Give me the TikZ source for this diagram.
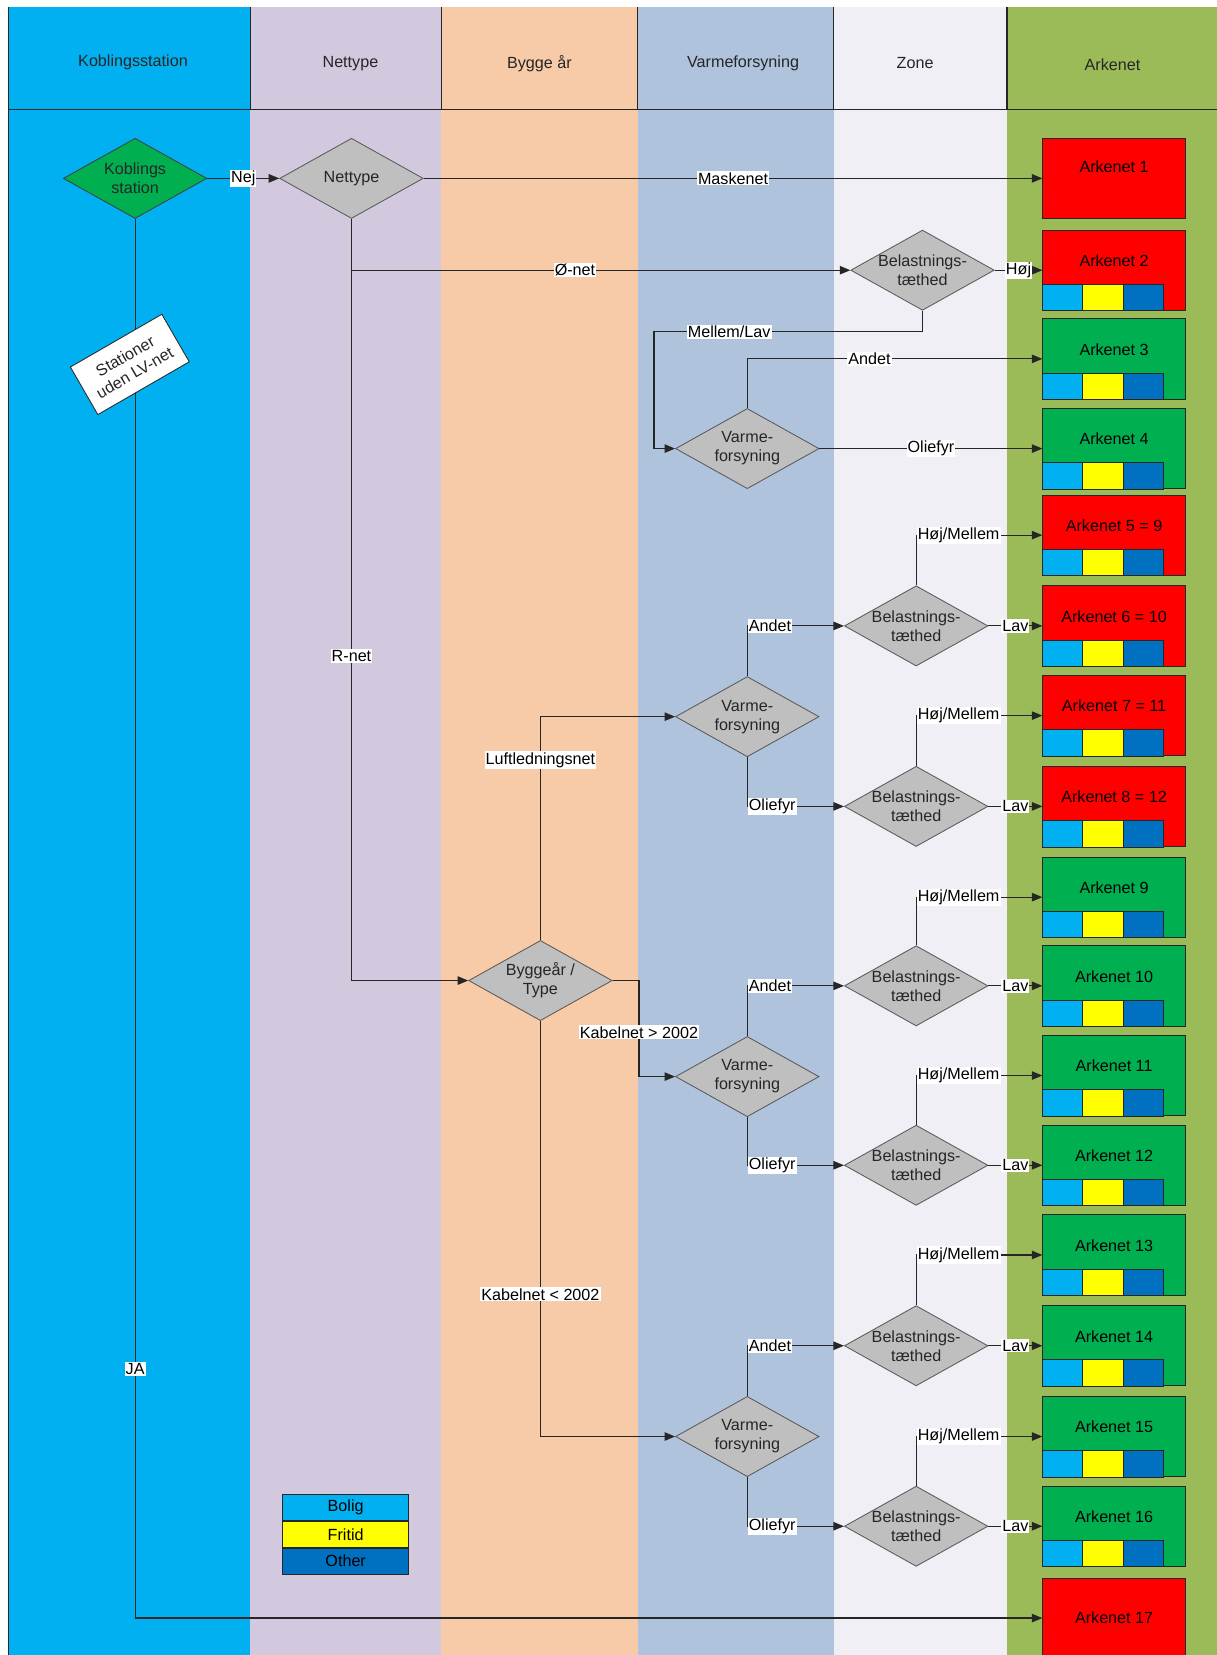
\documentclass[tikz,border=0pt]{standalone}
\usepackage{fontspec}
\setmainfont{Liberation Sans}
\usetikzlibrary{shapes.geometric,arrows.meta}
\definecolor{colA}{HTML}{00B0F0}
\definecolor{colB}{HTML}{D3C9DF}
\definecolor{colC}{HTML}{F8CBA8}
\definecolor{colD}{HTML}{B0C3DC}
\definecolor{colE}{HTML}{F0EFF5}
\definecolor{colF}{HTML}{9BBB59}
\definecolor{diagrey}{HTML}{BFBFBF}
\definecolor{diagreen}{HTML}{00B050}
\definecolor{boxred}{HTML}{FF0000}
\definecolor{boxgreen}{HTML}{00B050}
\definecolor{bolig}{HTML}{00B0F0}
\definecolor{fritid}{HTML}{FFFF00}
\definecolor{other}{HTML}{0070C0}
\definecolor{ink}{HTML}{262626}
\newcommand\arksquares[1]{%
  \draw[sq,fill=bolig] (#1.south west) rectangle ++(38.3,-25);
  \draw[sq,fill=fritid] ([xshift=38.3pt]#1.south west) rectangle ++(38.3,-25);
  \draw[sq,fill=other] ([xshift=76.6pt]#1.south west) rectangle ++(38.3,-25);}
\begin{document}
\begin{tikzpicture}[x=1pt,y=-1pt,
  font=\fontsize{15.3}{18}\selectfont,
  dia/.style={diamond, draw=black!65, fill=diagrey, minimum width=136pt, minimum height=76pt, inner sep=0pt, line width=0.8pt},
  ark/.style={draw=black!85, minimum width=135pt, minimum height=76pt, inner sep=0pt, line width=0.8pt},
  sq/.style={draw=black!85, line width=0.8pt},
  lbl/.style={fill=white, inner sep=1pt, text=black},
  conn/.style={draw=ink, line width=1.1pt, -{Triangle[length=10pt,width=8pt]}},
  wire/.style={draw=ink, line width=1.1pt},
  hdr/.style={text=black!85},
  leg/.style={draw=black!85, minimum width=119pt, minimum height=24.6pt, inner sep=0pt, line width=0.8pt}
]
\useasboundingbox (0,0) rectangle (1153,1568);
% lanes
\fill[colA] (8,7) rectangle (237,1570);
\fill[colB] (237,7) rectangle (418,1570);
\fill[colC] (418,7) rectangle (604,1570);
\fill[colD] (604,7) rectangle (790,1570);
\fill[colE] (790,7) rectangle (954,1570);
\fill[colF] (954,7) rectangle (1155,1570);
\draw[wire] (8,7) -- (8,1570);
\draw[wire] (8,104) -- (1155,104);
\foreach \xx in {237,418,604,790,954} \draw[wire] (\xx,7) -- (\xx,104);
\node[hdr] (h1) at (126,59) {Koblingsstation};
\node[hdr] (h2) at (332,60) {Nettype};
\node[hdr] (h3) at (511,60) {Bygge år};
\node[hdr] (h4) at (704,60) {Varmeforsyning};
\node[hdr] (h5) at (867,60) {Zone};
\node[hdr] (h6) at (1054,61) {Arkenet};

% decisions
\node[dia, fill=diagreen, draw=black!75, label={[align=center,text=black!85]center:Koblings\\station}] (k1) at (128,169) {};
\node[dia, label={[text=black!85]center:Nettype}] (nt) at (333,169) {};
\node[dia, label={[align=center,text=black!85]center:Belastnings-\\tæthed}] (b1) at (874,256) {};
\node[dia, label={[align=center,text=black!85]center:Varme-\\forsyning}] (v1) at (708,425) {};
\node[dia, label={[align=center,text=black!85]center:Belastnings-\\tæthed}] (b2) at (868,593) {};
\node[dia, label={[align=center,text=black!85]center:Varme-\\forsyning}] (v2) at (708,679) {};
\node[dia, label={[align=center,text=black!85]center:Belastnings-\\tæthed}] (b3) at (868,764) {};
\node[dia, label={[align=center,text=black!85]center:Byggeår /\\Type}] (by) at (512,929) {};
\node[dia, label={[align=center,text=black!85]center:Belastnings-\\tæthed}] (b4) at (868,934) {};
\node[dia, label={[align=center,text=black!85]center:Varme-\\forsyning}] (v3) at (708,1020) {};
\node[dia, label={[align=center,text=black!85]center:Belastnings-\\tæthed}] (b5) at (868,1104) {};
\node[dia, label={[align=center,text=black!85]center:Belastnings-\\tæthed}] (b6) at (868,1275) {};
\node[dia, label={[align=center,text=black!85]center:Varme-\\forsyning}] (v4) at (708,1361) {};
\node[dia, label={[align=center,text=black!85]center:Belastnings-\\tæthed}] (b7) at (868,1446) {};

% result boxes
\node[ark, fill=boxred, label={[yshift=11pt]center:Arkenet 1}] (a1) at (1055.5,169) {};
\node[ark, fill=boxred, label={[yshift=9pt]center:Arkenet 2}] (a2) at (1055.5,256) {};
\node[ark, fill=boxgreen, label={[yshift=9pt]center:Arkenet 3}] (a3) at (1055.5,340) {};
\node[ark, fill=boxgreen, label={[yshift=9pt]center:Arkenet 4}] (a4) at (1055.5,425) {};
\node[ark, fill=boxred, label={[yshift=9pt]center:Arkenet 5 = 9}] (a5) at (1055.5,507) {};
\node[ark, fill=boxred, label={[yshift=9pt]center:Arkenet 6 = 10}] (a6) at (1055.5,593) {};
\node[ark, fill=boxred, label={[yshift=9pt]center:Arkenet 7 = 11}] (a7) at (1055.5,678) {};
\node[ark, fill=boxred, label={[yshift=9pt]center:Arkenet 8 = 12}] (a8) at (1055.5,764) {};
\node[ark, fill=boxgreen, label={[yshift=9pt]center:Arkenet 9}] (a9) at (1055.5,850) {};
\node[ark, fill=boxgreen, label={[yshift=9pt]center:Arkenet 10}] (a10) at (1055.5,934) {};
\node[ark, fill=boxgreen, label={[yshift=9pt]center:Arkenet 11}] (a11) at (1055.5,1019) {};
\node[ark, fill=boxgreen, label={[yshift=9pt]center:Arkenet 12}] (a12) at (1055.5,1104) {};
\node[ark, fill=boxgreen, label={[yshift=9pt]center:Arkenet 13}] (a13) at (1055.5,1189) {};
\node[ark, fill=boxgreen, label={[yshift=9pt]center:Arkenet 14}] (a14) at (1055.5,1275) {};
\node[ark, fill=boxgreen, label={[yshift=9pt]center:Arkenet 15}] (a15) at (1055.5,1361) {};
\node[ark, fill=boxgreen, label={[yshift=9pt]center:Arkenet 16}] (a16) at (1055.5,1446) {};
\node[ark, fill=boxred, label={center:Arkenet 17}] (a17) at (1055.5,1533) {};
\arksquares{a2}\arksquares{a3}\arksquares{a4}\arksquares{a5}
\arksquares{a6}\arksquares{a7}\arksquares{a8}\arksquares{a9}
\arksquares{a10}\arksquares{a11}\arksquares{a12}\arksquares{a13}
\arksquares{a14}\arksquares{a15}\arksquares{a16}

% legend
\node[leg,fill=bolig] (lg1) at (327.5,1428.3) {Bolig};
\node[leg,fill=fritid,anchor=north] (lg2) at (lg1.south) {Fritid};
\node[leg,fill=other,anchor=north] (lg3) at (lg2.south) {Other};

% connectors
\draw[conn] (k1.east) -- node[lbl]{Nej} (nt.west);
\draw[conn] (nt.east) -- node[lbl]{Maskenet} (a1.west);
\draw[conn] (nt.south) |- node[lbl,pos=0.724]{Ø-net} (b1.west);
\draw[conn] (nt.south) |- node[lbl,pos=0.287]{R-net} (by.west);
\draw[conn] (b1.east) -- node[lbl]{Høj} (a2.west);
\draw[conn] (b1.south) -- ++(0,20) -| node[lbl,pos=0.36]{Mellem/Lav} ([xshift=-20pt]v1.west) -- (v1.west);
\draw[conn] (v1.north) |- node[lbl,pos=0.707]{Andet} (a3.west);
\draw[conn] (v1.east) -- node[lbl]{Oliefyr} (a4.west);

\draw[conn] (by.north) |- node[lbl,pos=0.403]{Luftledningsnet} (v2.west);
\draw[conn] (v2.north) |- node[lbl,pos=0.5,anchor=west]{Andet} (b2.west);
\draw[conn] (b2.north) |- node[lbl,pos=0.5,anchor=west]{Høj/Mellem} (a5.west);
\draw[conn] (b2.east) -- node[lbl]{Lav} (a6.west);
\draw[conn] (v2.south) |- node[lbl,pos=0.5,anchor=west]{Oliefyr} (b3.west);
\draw[conn] (b3.north) |- node[lbl,pos=0.5,anchor=west]{Høj/Mellem} (a7.west);
\draw[conn] (b3.east) -- node[lbl]{Lav} (a8.west);

\draw[conn] (by.east) -- ++(25,0) |- node[lbl,pos=0.27]{Kabelnet > 2002} (v3.west);
\draw[conn] (v3.north) |- node[lbl,pos=0.5,anchor=west]{Andet} (b4.west);
\draw[conn] (b4.north) |- node[lbl,pos=0.5,anchor=west]{Høj/Mellem} (a9.west);
\draw[conn] (b4.east) -- node[lbl]{Lav} (a10.west);
\draw[conn] (v3.south) |- node[lbl,pos=0.5,anchor=west]{Oliefyr} (b5.west);
\draw[conn] (b5.north) |- node[lbl,pos=0.5,anchor=west]{Høj/Mellem} (a11.west);
\draw[conn] (b5.east) -- node[lbl]{Lav} (a12.west);

\draw[conn] (by.south) |- node[lbl,pos=0.329]{Kabelnet < 2002} (v4.west);
\draw[conn] (v4.north) |- node[lbl,pos=0.5,anchor=west]{Andet} (b6.west);
\draw[conn] (b6.north) |- node[lbl,pos=0.5,anchor=west]{Høj/Mellem} (a13.west);
\draw[conn] (b6.east) -- node[lbl]{Lav} (a14.west);
\draw[conn] (v4.south) |- node[lbl,pos=0.5,anchor=west]{Oliefyr} (b7.west);
\draw[conn] (b7.north) |- node[lbl,pos=0.5,anchor=west]{Høj/Mellem} (a15.west);
\draw[conn] (b7.east) -- node[lbl]{Lav} (a16.west);

\draw[conn] (k1.south) |- node[lbl,pos=0.411]{JA}
  node[pos=0.052, xshift=-5pt, draw=black!85, fill=white, rotate=30, align=center,
       minimum width=100pt, minimum height=52pt, inner sep=1pt, line width=0.8pt, text=black!85]
       (st) {Stationer\\uden LV-net} (a17.west);
\end{tikzpicture}
\end{document}
